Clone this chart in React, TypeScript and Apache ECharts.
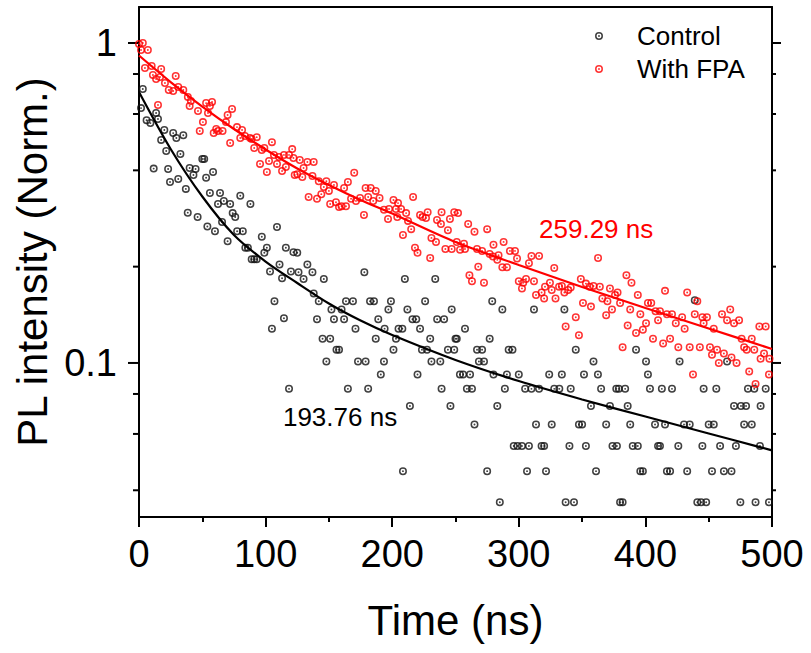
import React, { useEffect, useRef } from "react";
import * as echarts from "echarts";

const FONT = '"Liberation Sans", Arial, Helvetica, sans-serif';

// Time (ns), PL intensity (normalized)
const controlData: [number, number][] = [
  [1.6, 0.626], [3, 0.718], [6, 0.574], [9, 0.562], [11.6, 0.405], [13.5, 0.604], [15, 0.579], [17.5, 0.498],
  [20, 0.535], [21.5, 0.46], [23, 0.404], [24.5, 0.368], [27, 0.523], [29.5, 0.505], [31, 0.376], [32.7, 0.45],
  [35, 0.515], [37, 0.35], [38.5, 0.295], [40, 0.407], [43, 0.387], [44.7, 0.404], [46.3, 0.286], [50, 0.434],
  [51.5, 0.434], [53, 0.379], [54, 0.267], [56, 0.34], [58.5, 0.395], [60, 0.258], [62.4, 0.314], [64, 0.34],
  [65.6, 0.276], [67, 0.321], [70, 0.24], [72, 0.314], [74, 0.294], [76, 0.286], [77.5, 0.258], [80, 0.333],
  [82, 0.258], [84, 0.229], [86, 0.229], [88, 0.314], [89, 0.211], [91, 0.211], [93, 0.211], [97, 0.248],
  [99, 0.221], [101, 0.229], [103.5, 0.193], [105, 0.128], [107, 0.156], [109, 0.266], [111, 0.203], [113, 0.184],
  [114.5, 0.138], [116, 0.229], [118.5, 0.083], [120, 0.193], [122, 0.222],
  [125, 0.221], [126, 0.192], [130, 0.183], [133, 0.203], [137, 0.192], [138, 0.165], [140.6, 0.137], [142, 0.156],
  [145, 0.119], [146, 0.183], [148, 0.101], [151, 0.119], [152, 0.147], [154, 0.137], [156, 0.11], [158, 0.11],
  [160, 0.147], [162, 0.137], [163.5, 0.156], [165, 0.083], [169, 0.156], [171, 0.128], [173, 0.101], [178, 0.192],
  [179, 0.101], [181, 0.083], [182.5, 0.156], [185.6, 0.156], [187, 0.119], [189, 0.137], [191, 0.092], [193.5, 0.101],
  [194, 0.128], [197, 0.147], [199, 0.156], [201, 0.11], [203, 0.119], [205, 0.128], [208, 0.128], [208.5, 0.0459],
  [210, 0.183], [212, 0.147], [214, 0.0734], [216, 0.137], [219, 0.137], [220, 0.092], [222, 0.128], [223.5, 0.11],
  [226, 0.156], [227.5, 0.11], [230, 0.119], [231, 0.101], [234, 0.183], [235.5, 0.137], [238, 0.101], [239, 0.083],
  [241, 0.137], [244, 0.11], [246, 0.0734], [247, 0.147], [249, 0.11], [250, 0.119],
  [251, 0.119], [253.5, 0.092], [256, 0.092], [257.5, 0.128], [259, 0.083], [261.5, 0.092], [263, 0.083], [265, 0.0642],
  [267, 0.11], [268.5, 0.101], [271, 0.11], [272.5, 0.101], [275, 0.0459], [277, 0.119], [279, 0.156], [280, 0.092],
  [283, 0.0734], [285, 0.0367], [287, 0.147], [289, 0.083], [290.6, 0.092], [292, 0.11], [295, 0.11], [296, 0.055],
  [299, 0.055], [300, 0.092], [302.5, 0.055], [305, 0.083], [306.5, 0.0459], [308, 0.055], [310, 0.083], [312, 0.147],
  [313.6, 0.0642], [316, 0.083], [318, 0.055], [320, 0.055], [321.5, 0.0459], [324, 0.092], [326, 0.0642], [328, 0.083],
  [332, 0.083], [334, 0.092], [336, 0.147], [337, 0.0367], [340, 0.055], [341, 0.083], [343.6, 0.0367], [345, 0.11],
  [347.5, 0.0642], [350, 0.0642], [351.5, 0.092], [353, 0.055], [357, 0.0734], [359, 0.101], [361, 0.0459], [362.5, 0.092],
  [365, 0.083], [369, 0.0642], [372, 0.0734], [374, 0.055], [377, 0.083],
  [377.5, 0.055], [379, 0.083], [380, 0.0367], [382, 0.0367], [384, 0.083], [386, 0.0734], [388, 0.0642], [390, 0.055],
  [392.6, 0.11], [394, 0.055], [396, 0.0459], [398, 0.0459], [400.5, 0.101], [402, 0.092], [403.6, 0.083], [407.6, 0.0642],
  [410, 0.055], [411.5, 0.055], [413, 0.083], [415.5, 0.0642], [417, 0.0459], [419.5, 0.0459], [421, 0.083], [426, 0.055],
  [427, 0.101], [430.5, 0.0642], [433, 0.0459], [435, 0.0642], [439, 0.157], [441, 0.0367], [444, 0.0367], [445, 0.055],
  [446, 0.083], [448, 0.0367], [450, 0.0642], [452.6, 0.0459], [454, 0.0642], [456, 0.083], [459, 0.055], [462, 0.0459],
  [464.5, 0.101], [468, 0.0459], [470, 0.0734], [471.5, 0.055], [475, 0.0367], [475.5, 0.0734], [478, 0.0642], [479.5, 0.0734],
  [481, 0.083], [484, 0.0642], [486, 0.083], [487, 0.0367], [490.5, 0.055], [491, 0.0734], [495, 0.083], [497.6, 0.0367],
];

const fpaData: [number, number][] = [
  [0, 0.993], [1.6, 0.951], [3, 1.0], [4.7, 0.835], [7, 0.951], [10, 0.847], [11, 0.794], [13.5, 0.772],
  [15, 0.64], [16.6, 0.783], [17.5, 0.829], [20.5, 0.75], [23.5, 0.713], [27, 0.708], [29, 0.789], [31, 0.729],
  [35, 0.713], [38.6, 0.678], [40, 0.636], [41, 0.659], [46.6, 0.613], [48, 0.531], [50.5, 0.566], [53, 0.649],
  [54.5, 0.604], [56, 0.636], [57.7, 0.654], [59, 0.523], [61, 0.539], [62.4, 0.531], [66, 0.531], [68.7, 0.566],
  [70, 0.596], [72, 0.487], [73.5, 0.622], [77.4, 0.546], [80, 0.505], [81.4, 0.535], [83.7, 0.512], [87.7, 0.505],
  [89, 0.501], [91, 0.47], [93, 0.508], [95.6, 0.419], [97, 0.463], [99, 0.47], [101, 0.395], [102.7, 0.428],
  [105, 0.49], [106.6, 0.447], [109, 0.419], [110.6, 0.44], [113, 0.398], [114.5, 0.447], [116, 0.41], [118.5, 0.447],
  [121, 0.466], [122, 0.437], [123, 0.387],
  [125, 0.389], [127, 0.431], [129, 0.381], [130, 0.407], [133, 0.425], [134, 0.33], [137, 0.384], [138, 0.425],
  [140.6, 0.326], [142, 0.37], [144, 0.337], [146, 0.355], [148, 0.37], [150, 0.345], [151, 0.314], [154, 0.36],
  [155.6, 0.318], [158, 0.307], [160, 0.309], [162, 0.352], [163.5, 0.309], [165, 0.368], [167.5, 0.326], [170, 0.393],
  [171.4, 0.321], [174.6, 0.328], [177.7, 0.29], [179, 0.352], [181, 0.33], [183, 0.352], [185, 0.321], [187, 0.345],
  [190, 0.328], [193.5, 0.301], [196.7, 0.282], [197.5, 0.303], [201, 0.323], [203, 0.303], [204, 0.286], [204.6, 0.316],
  [207, 0.303], [208.5, 0.251], [211, 0.294], [212.5, 0.278], [215, 0.262], [216.5, 0.33], [218, 0.229], [220, 0.221],
  [222, 0.29], [224, 0.286], [226.7, 0.284], [228, 0.296], [230, 0.213], [231, 0.246], [234.6, 0.239], [235.4, 0.28],
  [238.5, 0.272], [239, 0.296], [242, 0.227], [244, 0.26], [245.6, 0.282], [247, 0.227], [249, 0.296],
  [251, 0.239], [252, 0.294], [253.6, 0.226], [256.7, 0.236], [257.5, 0.227], [260, 0.272], [261, 0.188], [263, 0.18],
  [265, 0.257], [267, 0.227], [268, 0.2], [271, 0.224], [272.5, 0.178], [275, 0.262], [277, 0.219], [279.6, 0.215],
  [280, 0.234], [283, 0.21], [284, 0.217], [287, 0.199], [288, 0.239], [290.6, 0.199], [293, 0.224], [297, 0.224],
  [298.6, 0.212], [300, 0.18], [302.5, 0.171], [303.5, 0.178], [305.7, 0.183], [308, 0.205], [310, 0.216], [312, 0.18],
  [313.6, 0.163], [316, 0.216], [318, 0.166], [320, 0.159], [320.7, 0.173], [324.6, 0.178], [326, 0.169], [328, 0.198],
  [329, 0.159], [331.8, 0.173], [334, 0.174], [336, 0.166], [337, 0.13], [339, 0.169], [341, 0.172], [345, 0.139],
  [347.5, 0.122], [349, 0.183], [350.7, 0.154], [353, 0.177], [356, 0.173], [357, 0.15], [359, 0.174], [362.6, 0.213],
  [364, 0.173], [366, 0.159], [369, 0.141], [370, 0.156], [372, 0.171], [373.6, 0.147], [376, 0.163],
  [378, 0.166], [380, 0.154], [382, 0.112], [385, 0.188], [386, 0.131], [388, 0.147], [389, 0.178], [392.6, 0.124],
  [394, 0.163], [396, 0.142], [398, 0.127], [400.5, 0.133], [402, 0.154], [404.6, 0.154], [406, 0.119], [408, 0.145],
  [410, 0.136], [411.5, 0.145], [414, 0.115], [415.5, 0.168], [417, 0.142], [419.5, 0.119], [421, 0.142], [424, 0.133],
  [426, 0.112], [429, 0.139], [431, 0.128], [433, 0.166], [435, 0.112], [437.6, 0.092], [439, 0.142], [441, 0.156],
  [443, 0.112], [445, 0.139], [446, 0.133], [448.6, 0.139], [451, 0.112], [452.6, 0.106], [454, 0.128], [456.6, 0.11],
  [458, 0.1], [460.5, 0.142], [462, 0.107], [464.5, 0.136], [467, 0.147], [468, 0.104], [470, 0.133], [472, 0.1],
  [474, 0.136], [476, 0.119], [478, 0.112], [480, 0.11], [482, 0.094], [484, 0.119], [486, 0.11], [487, 0.0859],
  [490, 0.13], [491, 0.103], [493.7, 0.107], [495, 0.13], [497.6, 0.092], [498, 0.103],
];

const controlFit: [number, number][] = [
  [0, 0.7029], [25, 0.4665], [50, 0.3313], [75, 0.2512], [100, 0.2075], [125, 0.1778], [150, 0.1534], [175, 0.1357],
  [200, 0.1223], [250, 0.1022], [300, 0.0878], [350, 0.0769], [400, 0.068], [450, 0.0602], [500, 0.0533],
];

const fpaFit: [number, number][] = [
  [0, 0.914], [25, 0.7552], [50, 0.6331], [75, 0.5385], [100, 0.4648], [125, 0.4054], [150, 0.3599], [175, 0.3231],
  [200, 0.2932], [250, 0.2388], [300, 0.2024], [350, 0.1728], [400, 0.1485], [450, 0.1281], [500, 0.1106],
];

const yMajorTicks = [1, 0.1];
const yMinorTicks = [0.8, 0.6, 0.4, 0.2, 0.08, 0.06, 0.04];
const annotations = [
  { text: "259.29 ns", t: 316, v: 0.262, color: "#ff0000" },
  { text: "193.76 ns", t: 113.7, v: 0.0678, color: "#000000" },
];

const RING =
  "path://M10,0A10,10,0,1,1,-10,0A10,10,0,1,1,10,0ZM6.2,0A6.2,6.2,0,1,0,-6.2,0A6.2,6.2,0,1,0,6.2,0ZM2.4,0A2.4,2.4,0,1,1,-2.4,0A2.4,2.4,0,1,1,2.4,0Z";

export default function App() {
  const ref = useRef<HTMLDivElement>(null);
  useEffect(() => {
    if (!ref.current) return;
    const chart = echarts.init(ref.current, null, { renderer: "svg" });
    const axisLineStyle = { color: "#000", width: 2 };
    const yMin = 0.033;
    const yMax = 1.296;
    const option: any = {
      animation: false,
      backgroundColor: "#fff",
      textStyle: { fontFamily: FONT },
      grid: { left: 139, right: 39, top: 7, bottom: 136, containLabel: false },
      legend: {
        data: ["Control", "With FPA"],
        orient: "vertical",
        left: 590,
        top: 18,
        itemWidth: 66,
        itemHeight: 8,
        itemGap: 7,
        textStyle: { fontSize: 26, color: "#000", fontFamily: FONT },
      },
      xAxis: [
        {
          type: "value",
          min: 0,
          max: 500,
          interval: 100,
          position: "bottom",
          axisLine: { show: true, onZero: false, lineStyle: axisLineStyle },
          axisTick: { show: true, length: 10, lineStyle: axisLineStyle },
          minorTick: { show: true, splitNumber: 2, length: 5, lineStyle: axisLineStyle },
          splitLine: { show: false },
          minorSplitLine: { show: false },
          axisLabel: { fontSize: 38, color: "#000", margin: 18, fontFamily: FONT },
          name: "Time (ns)",
          nameLocation: "middle",
          nameGap: 82,
          nameTextStyle: { fontSize: 42, color: "#000", fontFamily: FONT },
        },
        {
          type: "value",
          min: 0,
          max: 500,
          position: "top",
          axisLine: { show: true, onZero: false, lineStyle: axisLineStyle },
          axisTick: { show: false },
          axisLabel: { show: false },
          splitLine: { show: false },
        },
      ],
      yAxis: [
        {
          type: "log",
          logBase: 10,
          min: yMin,
          max: yMax,
          position: "left",
          axisLine: { show: true, onZero: false, lineStyle: axisLineStyle },
          axisTick: { show: false },
          splitLine: { show: false },
          axisLabel: {
            fontSize: 38,
            color: "#000",
            margin: 22,
            fontFamily: FONT,
            formatter: (v: number) =>
              Math.abs(v - 1) < 1e-6 ? "1" : Math.abs(v - 0.1) < 1e-7 ? "0.1" : "",
          },
          name: "PL intensity (Norm.)",
          nameLocation: "middle",
          nameGap: 82,
          nameRotate: 90,
          nameTextStyle: { fontSize: 42, color: "#000", fontFamily: FONT },
        },
        {
          type: "log",
          logBase: 10,
          min: yMin,
          max: yMax,
          position: "right",
          axisLine: { show: true, onZero: false, lineStyle: axisLineStyle },
          axisTick: { show: false },
          axisLabel: { show: false },
          splitLine: { show: false },
        },
      ],
      series: [
        {
          name: "Control",
          type: "scatter",
          data: controlData,
          symbol: RING,
          symbolSize: 8,
          itemStyle: { color: "#111111" },
        },
        {
          name: "With FPA",
          type: "scatter",
          data: fpaData,
          symbol: RING,
          symbolSize: 8,
          itemStyle: { color: "#ff0000" },
        },
        {
          name: "Control fit",
          type: "line",
          data: controlFit,
          smooth: 0.3,
          showSymbol: false,
          symbol: "none",
          lineStyle: { color: "#000", width: 2.2 },
        },
        {
          name: "With FPA fit",
          type: "line",
          data: fpaFit,
          smooth: 0.3,
          showSymbol: false,
          symbol: "none",
          lineStyle: { color: "#ff0000", width: 2.2 },
        },
      ],
    };
    chart.setOption(option);

    const xl = chart.convertToPixel({ xAxisIndex: 0 }, 0) as number;
    const xr = chart.convertToPixel({ xAxisIndex: 0 }, 500) as number;
    const graphics: any[] = [];
    const addTick = (v: number, len: number) => {
      const y = chart.convertToPixel({ yAxisIndex: 0 }, v) as number;
      graphics.push({
        type: "line",
        shape: { x1: xl - len, y1: y, x2: xl, y2: y },
        style: { stroke: "#000", lineWidth: 2 },
        silent: true,
      });
      graphics.push({
        type: "line",
        shape: { x1: xr, y1: y, x2: xr + len - 2, y2: y },
        style: { stroke: "#000", lineWidth: 2 },
        silent: true,
      });
    };
    yMajorTicks.forEach((v) => addTick(v, 11));
    yMinorTicks.forEach((v) => addTick(v, 6));
    annotations.forEach((a) => {
      const p = chart.convertToPixel({ xAxisIndex: 0, yAxisIndex: 0 }, [a.t, a.v]) as number[];
      graphics.push({
        type: "text",
        x: p[0],
        y: p[1],
        style: {
          text: a.text,
          fill: a.color,
          font: `26px ${FONT}`,
          textAlign: "left",
          textVerticalAlign: "middle",
        },
        silent: true,
      });
    });
    chart.setOption({ graphic: graphics });

    return () => chart.dispose();
  }, []);

  return (
    <div
      ref={ref}
      style={{ position: "fixed", left: 0, top: 0, width: 811, height: 653, background: "#fff" }}
    />
  );
}
